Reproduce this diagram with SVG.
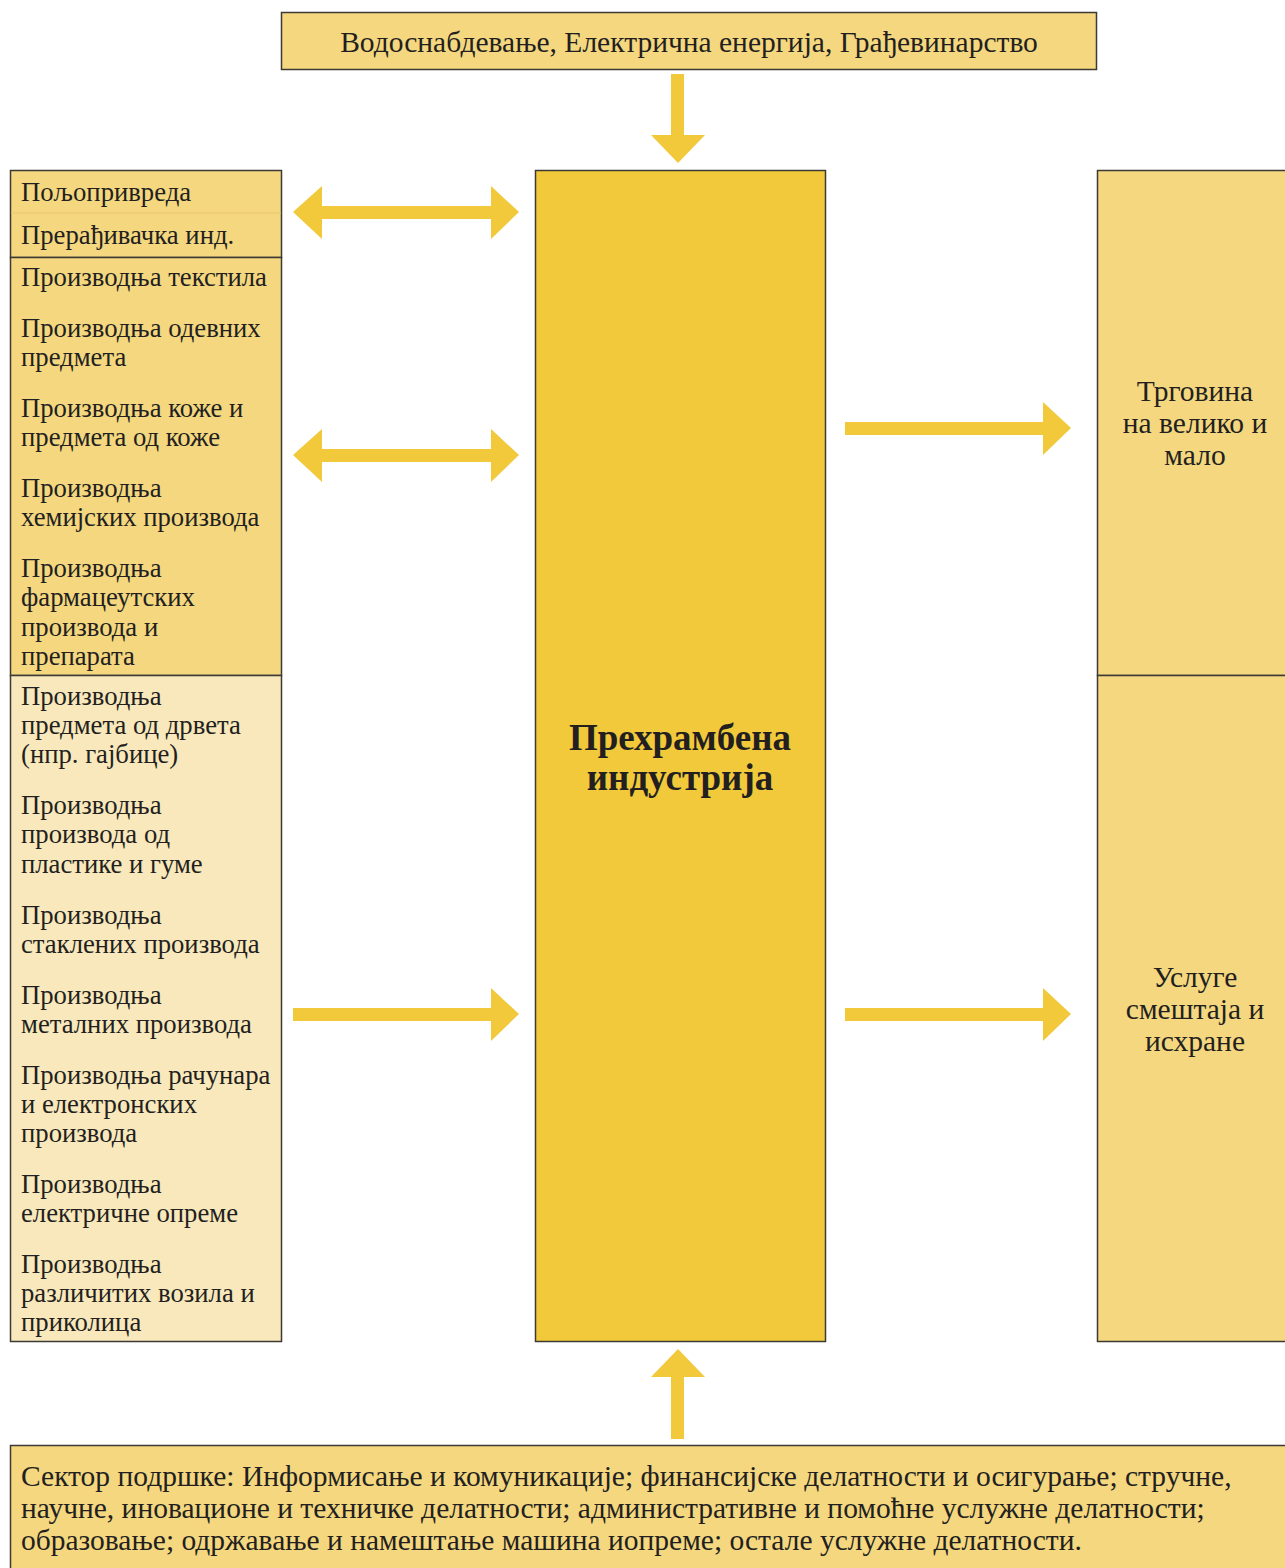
<svg xmlns="http://www.w3.org/2000/svg" width="1285" height="1568" viewBox="0 0 1285 1568">
<style>
.box{stroke:#3c3a34;stroke-width:1.5}
.mid{fill:#f4d77f}
.light{fill:#f8e8bb}
.core{fill:#f1c93a}
.t{font-family:"Liberation Serif","Times New Roman",serif;fill:#231f20}
.l{font-size:26.7px}
.m{font-size:29.5px}
.c{text-anchor:middle}
.arr{fill:#f1c93a}
</style>
<rect width="1285" height="1568" fill="#ffffff"/>
<g id="top">
<rect class="box mid" x="281.5" y="12.5" width="815" height="57"/>
<text class="t m c" x="689" y="52">Водоснабдевање, Електрична енергија, Грађевинарство</text>
</g>
<g id="left-primary">
<rect class="box mid" x="10.5" y="170.5" width="271" height="87"/>
<line x1="11" y1="213" x2="281" y2="213" stroke="#e8c86a" stroke-width="1"/>
<text class="t l" x="21" y="201">Пољопривреда</text>
<text class="t l" x="21" y="244">Прерађивачка инд.</text>
</g>
<g id="left-mid">
<rect class="box mid" x="10.5" y="257.5" width="271" height="418"/>
<text class="t l" x="21" y="286">Производња текстила</text>
<text class="t l" x="21" y="337">Производња одевних</text>
<text class="t l" x="21" y="366">предмета</text>
<text class="t l" x="21" y="417">Производња коже и</text>
<text class="t l" x="21" y="446">предмета од коже</text>
<text class="t l" x="21" y="497">Производња</text>
<text class="t l" x="21" y="526">хемијских производа</text>
<text class="t l" x="21" y="577">Производња</text>
<text class="t l" x="21" y="606">фармацеутских</text>
<text class="t l" x="21" y="636">производа и</text>
<text class="t l" x="21" y="665">препарата</text>
</g>
<g id="left-low">
<rect class="box light" x="10.5" y="675.5" width="271" height="666"/>
<text class="t l" x="21" y="705">Производња</text>
<text class="t l" x="21" y="734">предмета од дрвета</text>
<text class="t l" x="21" y="763">(нпр. гајбице)</text>
<text class="t l" x="21" y="814">Производња</text>
<text class="t l" x="21" y="843">производа од</text>
<text class="t l" x="21" y="873">пластике и гуме</text>
<text class="t l" x="21" y="924">Производња</text>
<text class="t l" x="21" y="953">стаклених производа</text>
<text class="t l" x="21" y="1004">Производња</text>
<text class="t l" x="21" y="1033">металних производа</text>
<text class="t l" x="21" y="1084">Производња рачунара</text>
<text class="t l" x="21" y="1113">и електронских</text>
<text class="t l" x="21" y="1142">производа</text>
<text class="t l" x="21" y="1193">Производња</text>
<text class="t l" x="21" y="1222">електричне опреме</text>
<text class="t l" x="21" y="1273">Производња</text>
<text class="t l" x="21" y="1302">различитих возила и</text>
<text class="t l" x="21" y="1331">приколица</text>
</g>
<g id="center">
<rect class="box core" x="535.5" y="170.5" width="290" height="1171"/>
<text class="t c" x="680" y="750" font-size="37" font-weight="bold">Прехрамбена</text>
<text class="t c" x="680" y="790" font-size="37" font-weight="bold">индустрија</text>
</g>
<g id="right-trade">
<rect class="box mid" x="1097.5" y="170.5" width="200" height="505"/>
<text class="t m c" x="1195" y="401">Трговина</text>
<text class="t m c" x="1195" y="433">на велико и</text>
<text class="t m c" x="1195" y="465">мало</text>
</g>
<g id="right-services">
<rect class="box mid" x="1097.5" y="675.5" width="200" height="666"/>
<text class="t m c" x="1195" y="987">Услуге</text>
<text class="t m c" x="1195" y="1019">смештаја и</text>
<text class="t m c" x="1195" y="1051">исхране</text>
</g>
<g id="bottom">
<rect class="box mid" x="10.5" y="1445.5" width="1290" height="140"/>
<text class="t m" x="21" y="1486">Сектор подршке: Информисање и комуникације; финансијске делатности и осигурање; стручне,</text>
<text class="t m" x="21" y="1518">научне, иновационе и техничке делатности; административне и помоћне услужне делатности;</text>
<text class="t m" x="21" y="1550">образовање; одржавање и намештање машина иопреме; остале услужне делатности.</text>
</g>
<g id="connectors">
<polygon class="arr" points="671,74 684,74 684,135 705,135 678,163 651,135 671,135"/>
<polygon class="arr" points="671,1439 684,1439 684,1377 705,1377 678,1349 651,1377 671,1377"/>
<polygon class="arr" points="293,212 322,186 322,206 491,206 491,186 519,212 491,239 491,219 322,219 322,239"/>
<polygon class="arr" points="293,455 322,429 322,449 491,449 491,429 519,455 491,482 491,462 322,462 322,482"/>
<polygon class="arr" points="293,1008 491,1008 491,988 519,1014 491,1041 491,1021 293,1021"/>
<polygon class="arr" points="845,422 1043,422 1043,402 1071,428 1043,455 1043,435 845,435"/>
<polygon class="arr" points="845,1008 1043,1008 1043,988 1071,1014 1043,1041 1043,1021 845,1021"/>
</g>
</svg>
